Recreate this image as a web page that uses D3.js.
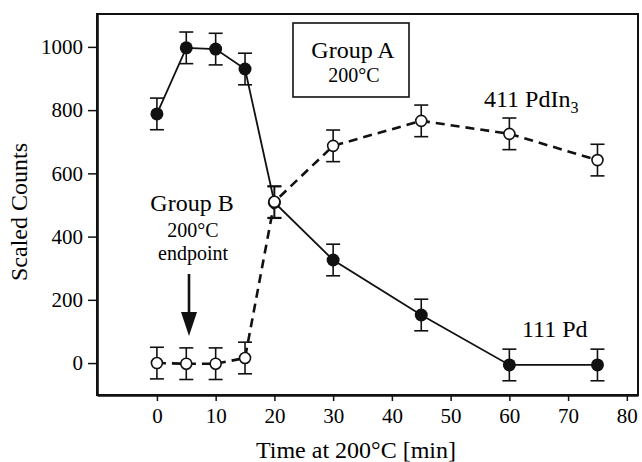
<!DOCTYPE html>
<meta charset="utf-8">
<style>
  body { margin: 0; padding: 0; background: #fff; }
  svg text { font-family: "Liberation Serif", "Times New Roman", serif; fill: #000; }
</style>
<body>
<script src="https://d3js.org/d3.v7.min.js"></script>
<script>

// data
var times = [0, 5, 10, 15, 20, 30, 45, 60, 75];
var pd = [788, 997, 993, 930, 508, 326, 152, -6, -6];
var pdErr = [50, 50, 50, 50, 50, 50, 50, 50, 50];
var pdIn3 = [0, -2, -2, 16, 510, 687, 766, 725, 642];
var pdIn3Err = [50, 50, 50, 50, 50, 50, 50, 50, 50];
var xTicks = [0, 10, 20, 30, 40, 50, 60, 70, 80];
var yTicks = [0, 200, 400, 600, 800, 1000];

var width = 642, height = 462;
var plotL = 97, plotR = 638, plotT = 14, plotB = 395;

var svg = d3.select("body").append("svg")
    .attr("width", width)
    .attr("height", height);

var x = d3.scaleLinear().domain([-10.2, 81.9]).range([plotL, plotR]);
var y = d3.scaleLinear().domain([-101, 1104]).range([plotB, plotT]);

// frame
svg.append("rect")
    .attr("x", plotL).attr("y", plotT)
    .attr("width", plotR - plotL).attr("height", plotB - plotT)
    .attr("fill", "none").attr("stroke", "#111").attr("stroke-width", 2);

var xAxis = svg.append("g")
    .attr("transform", "translate(0," + plotB + ")")
    .call(d3.axisBottom(x).tickValues(xTicks).tickFormat(d3.format("d"))
      .tickSize(6).tickSizeOuter(0).tickPadding(7));
var yAxis = svg.append("g")
    .attr("transform", "translate(" + plotL + ",0)")
    .call(d3.axisLeft(y).tickValues(yTicks).tickFormat(d3.format("d"))
      .tickSize(9).tickSizeOuter(0).tickPadding(5));

[xAxis, yAxis].forEach(function(a) {
  a.select(".domain").attr("stroke", "#111").attr("stroke-width", 2.6);
  a.selectAll(".tick line").attr("stroke", "#111").attr("stroke-width", 1.5);
  a.selectAll(".tick text").attr("font-size", 21)
      .style("font-family", "Liberation Serif").attr("fill", "#000");
});

svg.append("text")
    .attr("transform", "translate(27,212) rotate(-90)")
    .attr("text-anchor", "middle")
    .attr("font-size", 24)
    .text("Scaled Counts");

svg.append("text")
    .attr("x", 356).attr("y", 458)
    .attr("text-anchor", "middle")
    .attr("font-size", 24)
    .text("Time at 200°C [min]");

var line = d3.line()
    .x(function(d) { return x(d[0]); })
    .y(function(d) { return y(d[1]); });

function series(vals, errs) {
  return times.map(function(t, i) { return [t, vals[i], errs[i]]; });
}
var pdData = series(pd, pdErr);
var inData = series(pdIn3, pdIn3Err);

// lines
svg.append("path")
    .attr("d", line(inData))
    .attr("fill", "none").attr("stroke", "#111")
    .attr("stroke-width", 2.6).attr("stroke-dasharray", "9,6");
svg.append("path")
    .attr("d", line(pdData))
    .attr("fill", "none").attr("stroke", "#111")
    .attr("stroke-width", 1.8);

function errorBars(data) {
  var g = svg.append("g").attr("stroke", "#111").attr("stroke-width", 1.6);
  data.forEach(function(d) {
    var cx = x(d[0]);
    g.append("line").attr("x1", cx).attr("x2", cx)
        .attr("y1", y(d[1] - d[2])).attr("y2", y(d[1] + d[2]));
    [d[1] - d[2], d[1] + d[2]].forEach(function(v) {
      g.append("line").attr("x1", cx - 7).attr("x2", cx + 7)
          .attr("y1", y(v)).attr("y2", y(v));
    });
  });
}
errorBars(pdData);
errorBars(inData);

svg.append("g").selectAll("circle")
    .data(pdData).join("circle")
    .attr("cx", function(d) { return x(d[0]); })
    .attr("cy", function(d) { return y(d[1]); })
    .attr("r", 6.5).attr("fill", "#111");

svg.append("g").selectAll("circle")
    .data(inData).join("circle")
    .attr("cx", function(d) { return x(d[0]); })
    .attr("cy", function(d) { return y(d[1]); })
    .attr("r", 5.5).attr("fill", "#fff")
    .attr("stroke", "#111").attr("stroke-width", 1.6);

// Group A box
svg.append("rect")
    .attr("x", 293).attr("y", 23).attr("width", 116).attr("height", 74)
    .attr("fill", "#fff").attr("stroke", "#111").attr("stroke-width", 1.6);
svg.append("text").attr("x", 353).attr("y", 58)
    .attr("text-anchor", "middle").attr("font-size", 24).text("Group A");
svg.append("text").attr("x", 354).attr("y", 82)
    .attr("text-anchor", "middle").attr("font-size", 20).text("200°C");

// series labels
var lab = svg.append("text").attr("x", 484).attr("y", 107).attr("font-size", 24);
lab.append("tspan").text("411 PdIn");
lab.append("tspan").attr("font-size", 16).attr("dy", 6).text("3");

svg.append("text").attr("x", 522).attr("y", 337)
    .attr("font-size", 24).text("111 Pd");

// Group B note
svg.append("text").attr("x", 192).attr("y", 211)
    .attr("text-anchor", "middle").attr("font-size", 24).text("Group B");
svg.append("text").attr("x", 193).attr("y", 237)
    .attr("text-anchor", "middle").attr("font-size", 20).text("200°C");
svg.append("text").attr("x", 193).attr("y", 260)
    .attr("text-anchor", "middle").attr("font-size", 20).text("endpoint");

svg.append("line")
    .attr("x1", 189).attr("x2", 189).attr("y1", 274).attr("y2", 315)
    .attr("stroke", "#111").attr("stroke-width", 2.6);
svg.append("path")
    .attr("d", "M181,312 L197,312 L189,336 Z")
    .attr("fill", "#111");

</script>
